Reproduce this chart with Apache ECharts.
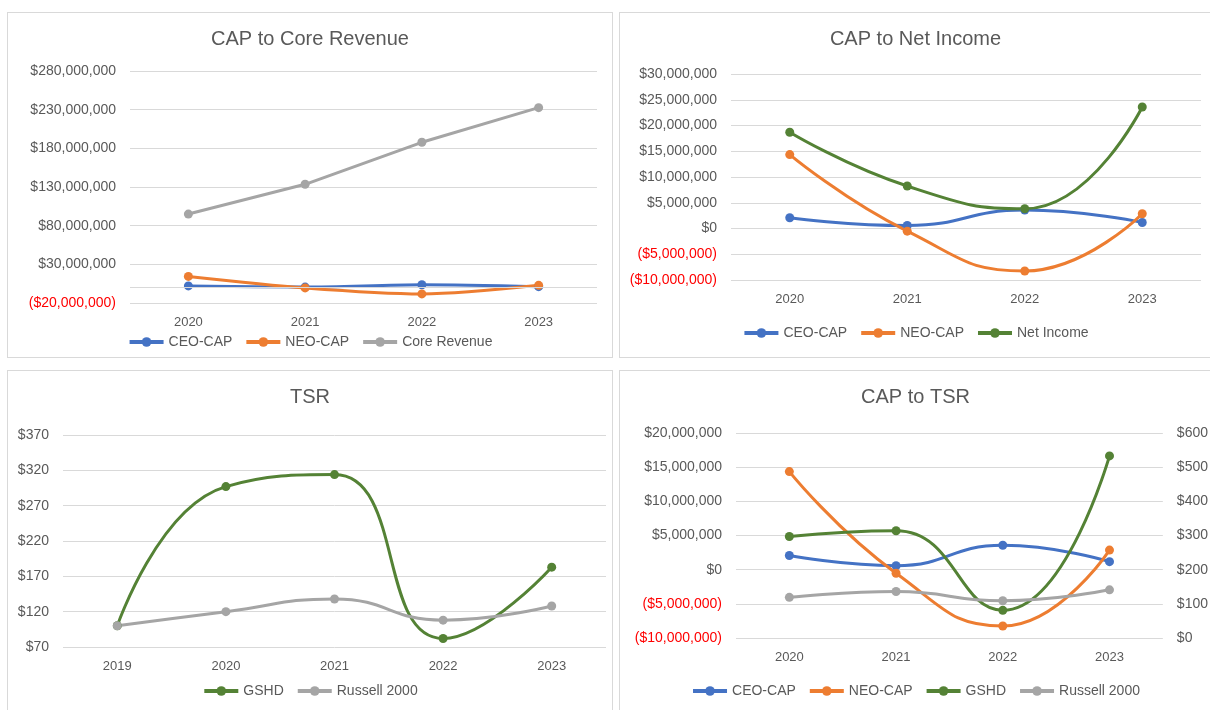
<!DOCTYPE html>
<html>
<head>
<meta charset="utf-8">
<title>CAP charts</title>
<script src="https://cdn.jsdelivr.net/npm/echarts@6/dist/echarts.min.js"></script>
<style>
  body { margin: 0; background: #fff; width: 1210px; height: 710px; overflow: hidden; position: relative; }
  .panel { position: absolute; border: 1px solid #d9d9d9; box-sizing: border-box; background: #fff; }
</style>
</head>
<body>
<div id="c1" class="panel" style="left:7px;top:12px;width:606px;height:346px"></div>
<div id="c2" class="panel" style="left:619px;top:12px;width:593px;height:346px"></div>
<div id="c3" class="panel" style="left:7px;top:370px;width:606px;height:346px"></div>
<div id="c4" class="panel" style="left:619px;top:370px;width:593px;height:346px"></div>
<script>
// data
var years4 = ['2020', '2021', '2022', '2023'];
var years5 = ['2019', '2020', '2021', '2022', '2023'];
var ceoCap = [2080000, 580000, 3570000, 1170000];
var neoCap = [14350000, -520000, -8250000, 2860000];
var coreRevenue = [95000000, 133500000, 187800000, 232600000];
var netIncome = [18700000, 8250000, 3830000, 23600000];
var gshdTsr = [100, 297, 314, 82, 183];
var russellTsr = [100, 120, 138, 108, 128];
// TSR values as plotted on the "CAP to TSR" panel (right axis)
var gshdTsr4 = [297, 314, 81, 533];
var russellTsr4 = [119, 136, 109, 141];

var BLUE = '#4472c4', ORANGE = '#ed7d31', GREY = '#a5a5a5', GREEN = '#548235';
var TXT = '#595959', GRID = '#d9d9d9';
var FONT = "'Liberation Sans', Arial, sans-serif";

function money(v) {
    v = Number(v);
    var s = '$' + Math.abs(v).toLocaleString('en-US');
    return v < 0 ? '(' + s + ')' : s;
}
function negRed(v) {
    return Number(v) < 0 ? '#ff0000' : TXT;
}

function line(name, data, color, smooth, yIdx) {
    return {
        name: name,
        type: 'line',
        data: data,
        yAxisIndex: yIdx || 0,
        smooth: smooth,
        symbol: 'circle',
        symbolSize: 9,
        lineStyle: { width: 3, color: color },
        itemStyle: { color: color },
        emphasis: { disabled: true }
    };
}

function title(text) {
    return {
        text: text, left: 'center', top: 16, padding: 0,
        textStyle: { fontFamily: FONT, fontSize: 20, fontWeight: 'normal', color: TXT }
    };
}
function legend(names, top) {
    return {
        data: names, left: 'center', top: top, itemWidth: 34, itemHeight: 12, itemGap: 12,
        lineStyle: { width: 4 },
        textStyle: { fontFamily: FONT, fontSize: 14, color: TXT }
    };
}
function xCat(cats) {
    return {
        type: 'category', data: cats, boundaryGap: true,
        axisLine: { show: false }, axisTick: { show: false },
        axisLabel: { fontFamily: FONT, fontSize: 13, color: TXT, margin: 13 }
    };
}
function yVal(min, max, step, fmt, grid) {
    return {
        type: 'value', min: min, max: max, interval: step,
        axisLine: { show: false }, axisTick: { show: false },
        splitLine: { show: grid, lineStyle: { color: GRID, width: 1 } },
        axisLabel: { fontFamily: FONT, fontSize: 14, color: negRed, formatter: fmt, margin: 14 }
    };
}

var chart1 = echarts.init(document.getElementById('c1'));
var chart2 = echarts.init(document.getElementById('c2'));
var chart3 = echarts.init(document.getElementById('c3'));
var chart4 = echarts.init(document.getElementById('c4'));

// CAP to Core Revenue
var ceo1 = line('CEO-CAP', ceoCap, BLUE, 0.3);
ceo1.markLine = {
    silent: true, symbol: 'none', label: { show: false },
    lineStyle: { color: GRID, type: 'solid', width: 1 },
    data: [{ yAxis: 0 }]
};
chart1.setOption({
    animation: false,
    title: title('CAP to Core Revenue'),
    legend: legend(['CEO-CAP', 'NEO-CAP', 'Core Revenue'], 317),
    grid: { left: 122, right: 15, top: 58, bottom: 54 },
    xAxis: xCat(years4),
    yAxis: yVal(-20000000, 280000000, 50000000, money, true),
    series: [
        ceo1,
        line('NEO-CAP', neoCap, ORANGE, 0.3),
        line('Core Revenue', coreRevenue, GREY, false)
    ]
});

// CAP to Net Income
chart2.setOption({
    animation: false,
    title: title('CAP to Net Income'),
    legend: legend(['CEO-CAP', 'NEO-CAP', 'Net Income'], 308),
    grid: { left: 111, right: 10, top: 61, bottom: 77 },
    xAxis: xCat(years4),
    yAxis: yVal(-10000000, 30000000, 5000000, money, true),
    series: [
        line('CEO-CAP', ceoCap, BLUE, 0.5),
        line('NEO-CAP', neoCap, ORANGE, 0.5),
        line('Net Income', netIncome, GREEN, 0.5)
    ]
});

// TSR
chart3.setOption({
    animation: false,
    title: title('TSR'),
    legend: legend(['GSHD', 'Russell 2000'], 308),
    grid: { left: 55, right: 6, top: 64, bottom: 68 },
    xAxis: xCat(years5),
    yAxis: yVal(70, 370, 50, function (v) { return '$' + v; }, true),
    series: [
        line('GSHD', gshdTsr, GREEN, 0.5),
        line('Russell 2000', russellTsr, GREY, 0.5)
    ]
});

// CAP to TSR
chart4.setOption({
    animation: false,
    title: title('CAP to TSR'),
    legend: legend(['CEO-CAP', 'NEO-CAP', 'GSHD', 'Russell 2000'], 308),
    grid: { left: 116, right: 44, top: 62, bottom: 77 },
    xAxis: xCat(years4),
    yAxis: [
        yVal(-10000000, 20000000, 5000000, money, true),
        yVal(0, 600, 100, function (v) { return '$' + v; }, false)
    ],
    series: [
        line('CEO-CAP', ceoCap, BLUE, 0.5),
        line('NEO-CAP', neoCap, ORANGE, 0.5),
        line('GSHD', gshdTsr4, GREEN, 0.5, 1),
        line('Russell 2000', russellTsr4, GREY, 0.5, 1)
    ]
});
</script>
</body>
</html>
